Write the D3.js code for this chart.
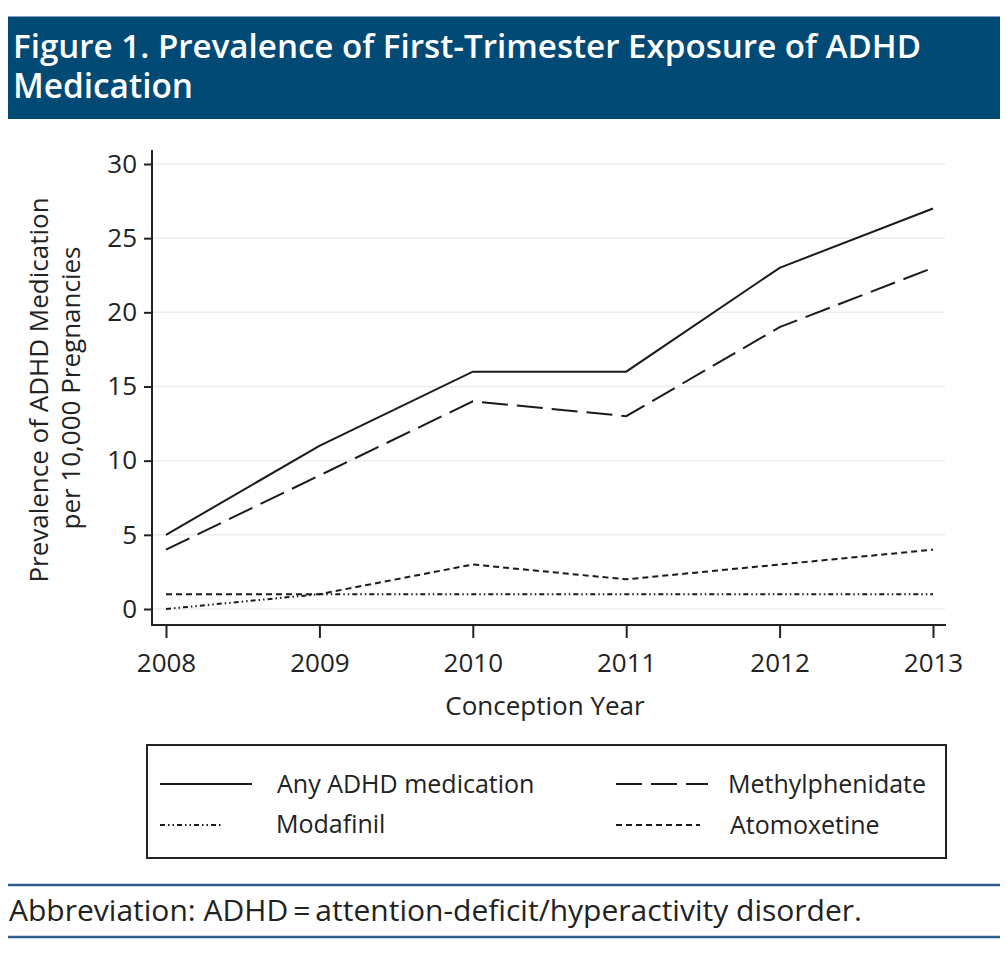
<!DOCTYPE html>
<html><head><meta charset="utf-8">
<script src="https://cdn.jsdelivr.net/npm/d3@7"></script>
<style>body{margin:0;background:#fff}svg{display:block}</style>
</head><body>
<svg id="c" width="1006" height="968"></svg>
<script>
const years = [2008, 2009, 2010, 2011, 2012, 2013];
const anyADHD = [5, 11, 16, 16, 23, 27];
const methylphenidate = [4, 9, 14, 13, 19, 23];
const atomoxetine = [1, 1, 3, 2, 3, 4];
const modafinil = [0, 1, 1, 1, 1, 1];
const yTicks = [0, 5, 10, 15, 20, 25, 30];

const svg = d3.select("#c");
// Title bar
svg.append("rect").attr("x", 8).attr("y", 16).attr("width", 992).attr("height", 103).attr("fill", "#004a75");
svg.append("line").attr("x1", 8).attr("x2", 1000).attr("y1", 16.5).attr("y2", 16.5).attr("stroke", "#7fa0ba").attr("stroke-width", 1);
const tf = "'Open Sans','Noto Sans',sans-serif";
svg.append("text").attr("x", 13).attr("y", 58).attr("fill", "#fff").attr("font-family", tf).attr("font-weight", 600).attr("font-size", 33)
  .attr("textLength", 908).attr("lengthAdjust", "spacingAndGlyphs").text("Figure 1. Prevalence of First-Trimester Exposure of ADHD");
svg.append("text").attr("x", 13).attr("y", 98).attr("fill", "#fff").attr("font-family", tf).attr("font-weight", 600).attr("font-size", 34)
  .attr("textLength", 180).attr("lengthAdjust", "spacingAndGlyphs").text("Medication");

const x = d3.scaleLinear().domain([2008, 2013]).range([166, 933]);
const y = d3.scaleLinear().domain([0, 30]).range([609, 164]);
const af = "'Open Sans','Noto Sans',sans-serif";

// gridlines
svg.append("g").selectAll("line").data(yTicks).join("line")
  .attr("x1", 153).attr("x2", 945).attr("y1", d => y(d)).attr("y2", d => y(d))
  .attr("stroke", "#e8eef0").attr("stroke-width", 1.5);

// y axis
const yAxis = svg.append("g").attr("transform", "translate(152,0)")
  .call(d3.axisLeft(y).tickValues(yTicks).tickSize(8).tickPadding(7));
yAxis.select(".domain").attr("d", "M0,150V625").attr("stroke", "#222").attr("stroke-width", 2);
yAxis.selectAll(".tick line").attr("stroke", "#222").attr("stroke-width", 2);
yAxis.selectAll("text").attr("font-family", af).attr("font-size", 26).attr("fill", "#222");

// x axis
const xAxis = svg.append("g").attr("transform", "translate(0,625)")
  .call(d3.axisBottom(x).tickValues(years).tickFormat(d3.format("d")).tickSize(13).tickPadding(16));
xAxis.select(".domain").attr("d", "M151,0H946").attr("stroke", "#222").attr("stroke-width", 2);
xAxis.selectAll(".tick line").attr("stroke", "#222").attr("stroke-width", 2);
xAxis.selectAll("text").attr("font-family", af).attr("font-size", 26).attr("fill", "#222");

// axis titles
svg.append("text").attr("x", 545).attr("y", 715).attr("text-anchor", "middle").attr("font-family", af).attr("font-size", 26).attr("fill", "#222").text("Conception Year");
const yt = svg.append("g").attr("transform", "translate(0,390) rotate(-90)");
yt.append("text").attr("x", 0).attr("y", 48).attr("text-anchor", "middle").attr("font-family", af).attr("font-size", 26).attr("fill", "#222").text("Prevalence of ADHD Medication");
yt.append("text").attr("x", 2).attr("y", 80).attr("text-anchor", "middle").attr("font-family", af).attr("font-size", 26).attr("fill", "#222").text("per 10,000 Pregnancies");

const series = [
  {name: "Any ADHD medication", vals: anyADHD, dash: null},
  {name: "Methylphenidate", vals: methylphenidate, dash: "26,9"},
  {name: "Modafinil", vals: modafinil, dash: "5,3,1.5,3,1.5,3"},
  {name: "Atomoxetine", vals: atomoxetine, dash: "6,4"}
];
const line = d3.line().x((d, i) => x(years[i])).y(d => y(d));
svg.append("g").selectAll("path").data(series).join("path")
  .attr("d", d => line(d.vals)).attr("fill", "none").attr("stroke", "#1a1a1a")
  .attr("stroke-width", 2).attr("stroke-dasharray", d => d.dash);

// legend
svg.append("rect").attr("x", 147).attr("y", 745).attr("width", 799).attr("height", 113).attr("fill", "none").attr("stroke", "#222").attr("stroke-width", 2);
const leg = [
  {s: series[0], x1: 160, x2: 252, tx: 277, y: 784, ty: 793},
  {s: series[1], x1: 616, x2: 708, tx: 728, y: 784, ty: 793},
  {s: series[2], x1: 160, x2: 222, tx: 276, y: 825, ty: 833},
  {s: series[3], x1: 616, x2: 700, tx: 730, y: 825, ty: 834}
];
const lg = svg.append("g").selectAll("g").data(leg).join("g");
lg.append("line").attr("x1", d => d.x1).attr("x2", d => d.x2).attr("y1", d => d.y).attr("y2", d => d.y)
  .attr("stroke", "#1a1a1a").attr("stroke-width", 2).attr("stroke-dasharray", d => d.s.dash);
lg.append("text").attr("x", d => d.tx).attr("y", d => d.ty).attr("font-family", af).attr("font-size", 25).attr("fill", "#222").text(d => d.s.name);

// footer
svg.append("line").attr("x1", 8).attr("x2", 1000).attr("y1", 885).attr("y2", 885).attr("stroke", "#2d5e8e").attr("stroke-width", 2.5);
svg.append("line").attr("x1", 8).attr("x2", 1000).attr("y1", 937).attr("y2", 937).attr("stroke", "#2d5e8e").attr("stroke-width", 2.5);
svg.append("text").attr("x", 9).attr("y", 921).attr("font-family", af).attr("font-size", 29).attr("fill", "#222")
  .attr("textLength", 853).attr("lengthAdjust", "spacingAndGlyphs").text("Abbreviation: ADHD\u2009=\u2009attention-deficit/hyperactivity disorder.");
</script>
</body></html>
